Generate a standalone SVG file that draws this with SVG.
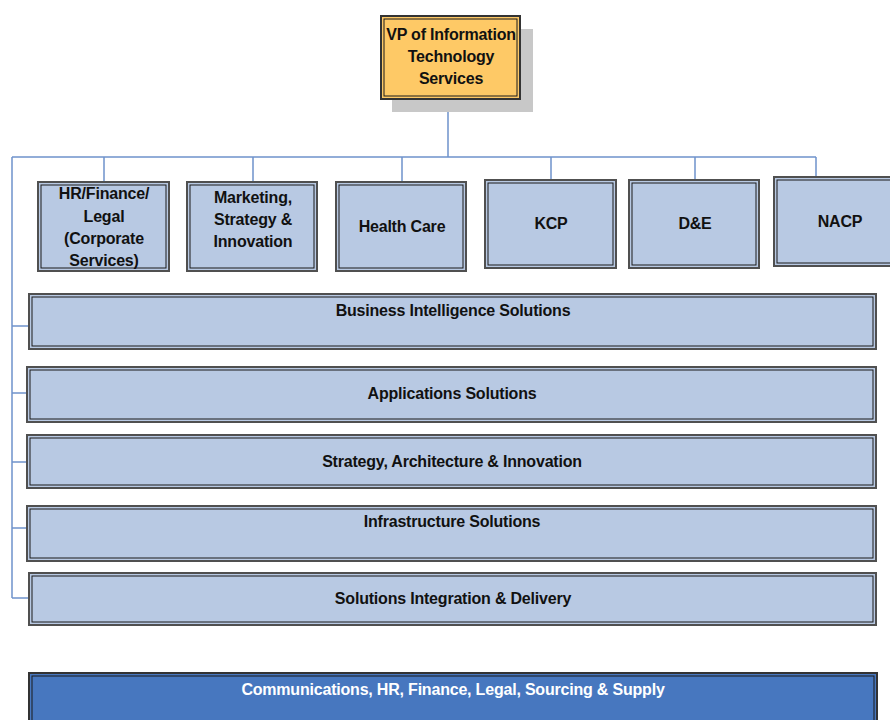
<svg xmlns="http://www.w3.org/2000/svg" width="890" height="720" viewBox="0 0 890 720">
<style>
.o{fill:#b8c9e3;stroke:#505050;stroke-width:2}
.i{fill:none;stroke:#1a1a1a;stroke-width:1}
.vp{fill:#fec966;stroke:#333;stroke-width:2}
.t{font-family:"Liberation Sans",Arial,sans-serif;font-weight:bold;font-size:16px;fill:#111;text-anchor:middle;letter-spacing:-0.2px}
.w{fill:#fff}
.c{fill:none;stroke:#6f93cc;stroke-width:1.5}
</style>
<rect width="890" height="720" fill="#fff"/>
<g id="connectors">
<path class="c" d="M448 99V157M12 157H816M104 157V182M253 157V182M402 157V182M551 157V180M695 157V180M816 157V177M12 157V598M12 326H29M12 393H27M12 462H27M12 528H27M12 598H29"/>
</g>
<g id="vp">
<rect x="392" y="29" width="141" height="83" fill="#c8c8c8"/>
<rect class="vp" x="381" y="16" width="139" height="83"/>
<rect class="i" x="384" y="19" width="133" height="77"/>
<text class="t" x="451" y="40">VP of Information</text>
<text class="t" x="451" y="62">Technology</text>
<text class="t" x="451" y="84">Services</text>
</g>
<g id="hr">
<rect class="o" x="38" y="182" width="131" height="89"/>
<rect class="i" x="41" y="185" width="125" height="83"/>
<text class="t" x="104" y="199">HR/Finance/</text>
<text class="t" x="104" y="222">Legal</text>
<text class="t" x="104" y="244">(Corporate</text>
<text class="t" x="104" y="266">Services)</text>
</g>
<g id="marketing">
<rect class="o" x="187" y="182" width="130" height="89"/>
<rect class="i" x="190" y="185" width="124" height="83"/>
<text class="t" x="253" y="203">Marketing,</text>
<text class="t" x="253" y="225">Strategy &amp;</text>
<text class="t" x="253" y="247">Innovation</text>
</g>
<g id="healthcare">
<rect class="o" x="336" y="182" width="130" height="89"/>
<rect class="i" x="339" y="185" width="124" height="83"/>
<text class="t" x="402" y="232">Health Care</text>
</g>
<g id="kcp">
<rect class="o" x="485" y="180" width="131" height="88"/>
<rect class="i" x="488" y="183" width="125" height="82"/>
<text class="t" x="551" y="229">KCP</text>
</g>
<g id="de">
<rect class="o" x="629" y="180" width="130" height="88"/>
<rect class="i" x="632" y="183" width="124" height="82"/>
<text class="t" x="695" y="229">D&amp;E</text>
</g>
<g id="nacp">
<rect class="o" x="774" y="177" width="130" height="89"/>
<rect class="i" x="777" y="180" width="124" height="83"/>
<text class="t" x="840" y="227">NACP</text>
</g>
<g id="bi">
<rect class="o" x="29" y="294" width="847" height="55"/>
<rect class="i" x="32" y="297" width="841" height="49"/>
<text class="t" x="453" y="316">Business Intelligence Solutions</text>
</g>
<g id="apps">
<rect class="o" x="27" y="367" width="849" height="55"/>
<rect class="i" x="30" y="370" width="843" height="49"/>
<text class="t" x="452" y="399">Applications Solutions</text>
</g>
<g id="strategy">
<rect class="o" x="27" y="435" width="849" height="53"/>
<rect class="i" x="30" y="438" width="843" height="47"/>
<text class="t" x="452" y="467">Strategy, Architecture &amp; Innovation</text>
</g>
<g id="infra">
<rect class="o" x="27" y="506" width="849" height="55"/>
<rect class="i" x="30" y="509" width="843" height="49"/>
<text class="t" x="452" y="527">Infrastructure Solutions</text>
</g>
<g id="sid">
<rect class="o" x="29" y="573" width="847" height="52"/>
<rect class="i" x="32" y="576" width="841" height="46"/>
<text class="t" x="453" y="604">Solutions Integration &amp; Delivery</text>
</g>
<g id="comms">
<rect x="29" y="673" width="848" height="52" fill="#4777bf" stroke="#333" stroke-width="2"/>
<rect class="i" x="32" y="676" width="842" height="50"/>
<text class="t w" x="453" y="695">Communications, HR, Finance, Legal, Sourcing &amp; Supply</text>
</g>
</svg>
